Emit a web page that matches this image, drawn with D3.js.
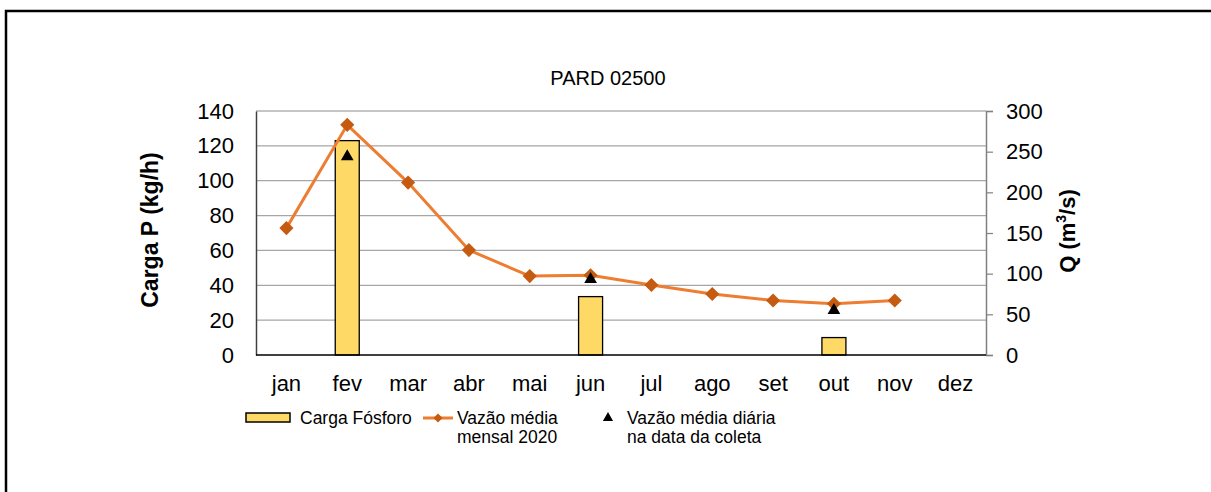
<!DOCTYPE html>
<html>
<head>
<meta charset="utf-8">
<script src="https://cdn.jsdelivr.net/npm/d3@7"></script>
<style>
  body { margin: 0; background: #fff; }
  svg { display: block; font-family: "Liberation Sans", Arial, sans-serif; }
</style>
</head>
<body>
<svg id="chart"></svg>
<script>
// PARD 02500 - carga de fósforo e vazão
const WIDTH = 1211;
const HEIGHT = 492;

const months = ["jan", "fev", "mar", "abr", "mai", "jun", "jul", "ago", "set", "out", "nov", "dez"];
const cargaFosforo = [null, 123, null, null, null, 33.5, null, null, null, 10, null, null];
const vazaoMensal = [156, 283, 212, 129, 97, 98, 86, 75, 67, 63, 67, null];
const vazaoDiaria = [null, 244, null, null, null, 93, null, null, null, 55, null, null];
const leftTicks = [0, 20, 40, 60, 80, 100, 120, 140];
const rightTicks = [0, 50, 100, 150, 200, 250, 300];

const plot = { left: 256, right: 986, top: 111, bottom: 355 };

const svg = d3.select("#chart")
  .attr("width", WIDTH)
  .attr("height", HEIGHT);

// outer frame (runs off the right and bottom edges)
svg.append("rect")
  .attr("x", 6).attr("y", 11)
  .attr("width", 1300).attr("height", 600)
  .attr("fill", "none")
  .attr("stroke", "#000")
  .attr("stroke-width", 2.5);

// scales
const x = d3.scaleBand()
  .domain(months)
  .range([plot.left, plot.right]);

const yLeft = d3.scaleLinear()
  .domain([0, 140])
  .range([plot.bottom, plot.top]);

const yRight = d3.scaleLinear()
  .domain([0, 300])
  .range([plot.bottom, plot.top]);

const cx = m => x(m) + x.bandwidth() / 2;

// gridlines
svg.append("g")
  .selectAll("line")
  .data(leftTicks.slice(1))
  .join("line")
    .attr("x1", plot.left).attr("x2", plot.right)
    .attr("y1", d => yLeft(d)).attr("y2", d => yLeft(d))
    .attr("stroke", d => d === 140 ? "#8c8c8c" : "#a6a6a6")
    .attr("stroke-width", 1.2);

// left axis
const gLeft = svg.append("g")
  .attr("transform", `translate(${plot.left},0)`)
  .call(d3.axisLeft(yLeft).tickValues(leftTicks).tickSize(0).tickPadding(22));
gLeft.select(".domain").attr("stroke", "#404040").attr("stroke-width", 1.5);
gLeft.selectAll("text").attr("font-size", 22).attr("fill", "#000").attr("font-family", null);

// right axis
const gRight = svg.append("g")
  .attr("transform", `translate(${plot.right},0)`)
  .call(d3.axisRight(yRight).tickValues(rightTicks).tickSize(7).tickPadding(13));
gRight.select(".domain").attr("stroke", "#808080").attr("stroke-width", 1.5);
gRight.selectAll(".tick line").attr("stroke", "#808080").attr("stroke-width", 1.2);
gRight.selectAll("text").attr("font-size", 22).attr("fill", "#000").attr("font-family", null);

// bars
svg.append("g")
  .selectAll("rect")
  .data(months.map((m, i) => ({ m, v: cargaFosforo[i] })).filter(d => d.v != null))
  .join("rect")
    .attr("x", d => cx(d.m) - 12)
    .attr("width", 24)
    .attr("y", d => yLeft(d.v))
    .attr("height", d => yLeft(0) - yLeft(d.v))
    .attr("fill", "#ffd966")
    .attr("stroke", "#000")
    .attr("stroke-width", 1.3);

// bottom axis line
svg.append("line")
  .attr("x1", plot.left).attr("x2", plot.right)
  .attr("y1", plot.bottom).attr("y2", plot.bottom)
  .attr("stroke", "#000").attr("stroke-width", 1.5);

// month labels
const gBottom = svg.append("g")
  .attr("transform", `translate(0,${plot.bottom})`)
  .call(d3.axisBottom(x).tickSize(0).tickPadding(20));
gBottom.select(".domain").remove();
gBottom.selectAll("text").attr("font-size", 22).attr("fill", "#000").attr("font-family", null);

// monthly flow line
const lineData = months.map((m, i) => ({ m, v: vazaoMensal[i] })).filter(d => d.v != null);
svg.append("path")
  .datum(lineData)
  .attr("fill", "none")
  .attr("stroke", "#ed7d31")
  .attr("stroke-width", 3)
  .attr("d", d3.line().x(d => cx(d.m)).y(d => yRight(d.v)));

const diamond = d3.symbol().type(d3.symbolSquare).size(100);
svg.append("g")
  .selectAll("path")
  .data(lineData)
  .join("path")
    .attr("d", diamond)
    .attr("transform", d => `translate(${cx(d.m)},${yRight(d.v)}) rotate(45)`)
    .attr("fill", "#c55a11");

// daily flow at sampling date
const tri = d3.symbol().type(d3.symbolTriangle).size(70);
svg.append("g")
  .selectAll("path")
  .data(months.map((m, i) => ({ m, v: vazaoDiaria[i] })).filter(d => d.v != null))
  .join("path")
    .attr("d", tri)
    .attr("transform", d => `translate(${cx(d.m)},${yRight(d.v)})`)
    .attr("fill", "#000");

// titles
svg.append("text")
  .attr("x", 608).attr("y", 85)
  .attr("text-anchor", "middle")
  .attr("font-size", 20)
  .text("PARD 02500");

svg.append("text")
  .attr("transform", "translate(158,230) rotate(-90)")
  .attr("text-anchor", "middle")
  .attr("font-size", 23)
  .attr("font-weight", "bold")
  .text("Carga P (kg/h)");

const qTitle = svg.append("text")
  .attr("transform", "translate(1075,231) rotate(-90)")
  .attr("text-anchor", "middle")
  .attr("font-size", 22)
  .attr("font-weight", "bold");
qTitle.append("tspan").text("Q (m");
qTitle.append("tspan").attr("font-size", 14).attr("dy", -9).text("3");
qTitle.append("tspan").attr("dy", 9).text("/s)");

// legend
const legend = svg.append("g").attr("font-size", 17.5);

legend.append("rect")
  .attr("x", 246).attr("y", 413).attr("width", 44).attr("height", 9)
  .attr("fill", "#ffd966").attr("stroke", "#000").attr("stroke-width", 1.5);
legend.append("text").attr("x", 300).attr("y", 424).text("Carga Fósforo");

legend.append("line")
  .attr("x1", 423).attr("x2", 453).attr("y1", 418).attr("y2", 418)
  .attr("stroke", "#ed7d31").attr("stroke-width", 3);
legend.append("path")
  .attr("d", d3.symbol().type(d3.symbolSquare).size(40))
  .attr("transform", "translate(438,418) rotate(45)")
  .attr("fill", "#c55a11");
legend.append("text").attr("x", 457).attr("y", 424).text("Vazão média");
legend.append("text").attr("x", 457).attr("y", 443).text("mensal 2020");

legend.append("path")
  .attr("d", d3.symbol().type(d3.symbolTriangle).size(45))
  .attr("transform", "translate(608,418)")
  .attr("fill", "#000");
legend.append("text").attr("x", 627).attr("y", 424).text("Vazão média diária");
legend.append("text").attr("x", 627).attr("y", 443).text("na data da coleta");
</script>
</body>
</html>
